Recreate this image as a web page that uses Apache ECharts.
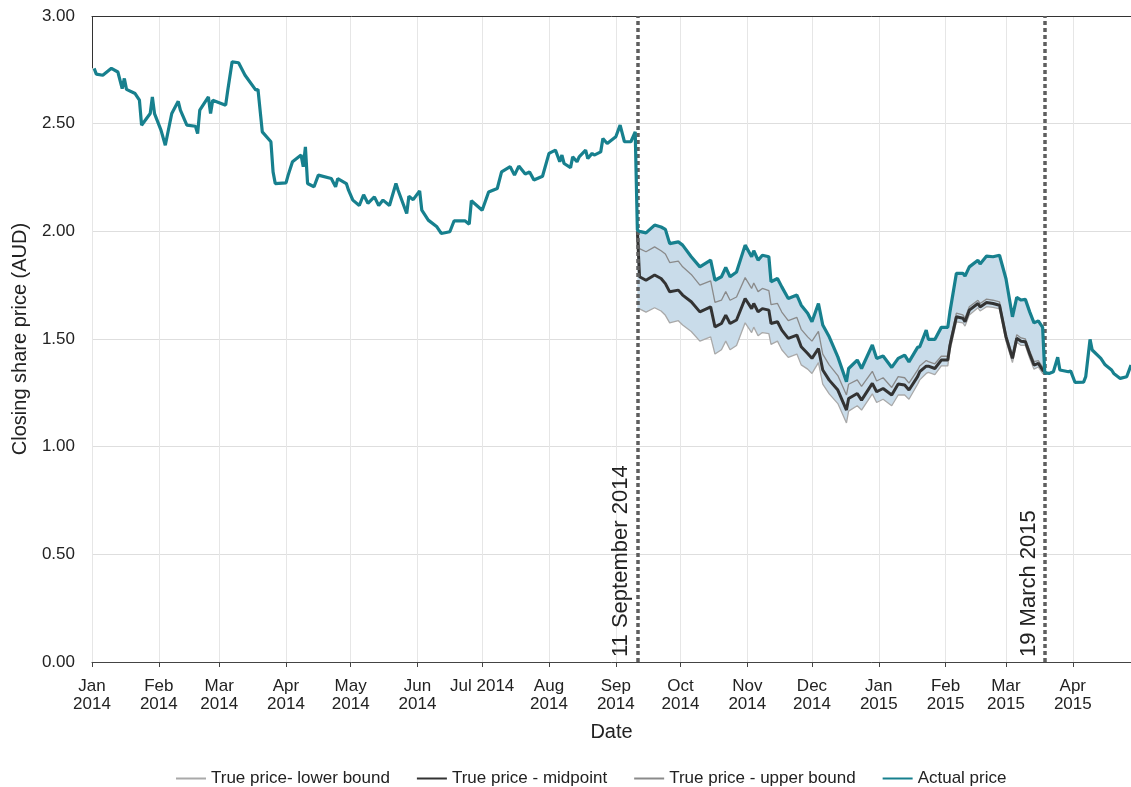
<!DOCTYPE html>
<html>
<head>
<meta charset="utf-8">
<script src="https://cdn.jsdelivr.net/npm/echarts@6/dist/echarts.min.js"></script>
<style>
  html, body { margin: 0; padding: 0; background: #ffffff; }
  #chart { width: 1131px; height: 787px; }
</style>
</head>
<body>
<div id="chart"></div>
<script>
// Month ticks on the date axis
const tickDates = ['2014-01-01','2014-02-01','2014-03-01','2014-04-01','2014-05-01','2014-06-01',
  '2014-07-01','2014-08-01','2014-09-01','2014-10-01','2014-11-01','2014-12-01',
  '2015-01-01','2015-02-01','2015-03-01','2015-04-01'];
const xStart = '2014-01-01';
const xEnd = '2015-04-28';

// Closing share price (AUD)
const actualDates = [
  '2014-01-02','2014-01-03','2014-01-06','2014-01-10','2014-01-13','2014-01-15','2014-01-16','2014-01-17',
  '2014-01-21','2014-01-23','2014-01-24','2014-01-28','2014-01-29','2014-01-30','2014-02-02','2014-02-04',
  '2014-02-07','2014-02-10','2014-02-11','2014-02-14','2014-02-18','2014-02-19','2014-02-20','2014-02-24',
  '2014-02-25','2014-02-26','2014-03-04','2014-03-05','2014-03-07','2014-03-10','2014-03-13','2014-03-18',
  '2014-03-19','2014-03-21','2014-03-25','2014-03-26','2014-03-27','2014-04-01','2014-04-02','2014-04-04',
  '2014-04-08','2014-04-09','2014-04-10','2014-04-11','2014-04-14','2014-04-16','2014-04-22','2014-04-24',
  '2014-04-25','2014-04-29','2014-04-30','2014-05-02','2014-05-05','2014-05-07','2014-05-09','2014-05-12',
  '2014-05-14','2014-05-16','2014-05-19','2014-05-22','2014-05-23','2014-05-27','2014-05-28','2014-05-30',
  '2014-06-02','2014-06-03','2014-06-06','2014-06-10','2014-06-12','2014-06-16','2014-06-18','2014-06-23',
  '2014-06-25','2014-06-26','2014-07-01','2014-07-04','2014-07-08','2014-07-10','2014-07-14','2014-07-16',
  '2014-07-18','2014-07-21','2014-07-23','2014-07-25','2014-07-29','2014-08-01','2014-08-04','2014-08-06',
  '2014-08-07','2014-08-08','2014-08-11','2014-08-12','2014-08-14','2014-08-15','2014-08-18','2014-08-19',
  '2014-08-21','2014-08-22','2014-08-25','2014-08-26','2014-08-28','2014-09-01','2014-09-03','2014-09-05',
  '2014-09-08','2014-09-10',
  '2014-09-11','2014-09-12','2014-09-15','2014-09-19','2014-09-22','2014-09-24','2014-09-26','2014-09-30',
  '2014-10-02','2014-10-06','2014-10-10','2014-10-15','2014-10-17','2014-10-20','2014-10-22','2014-10-24',
  '2014-10-27','2014-10-31','2014-11-03','2014-11-04','2014-11-06','2014-11-08','2014-11-11','2014-11-12',
  '2014-11-15','2014-11-17','2014-11-20','2014-11-24','2014-11-26','2014-11-29','2014-12-01','2014-12-04',
  '2014-12-06','2014-12-09','2014-12-13','2014-12-17','2014-12-18','2014-12-22','2014-12-24','2014-12-29',
  '2014-12-31','2015-01-03','2015-01-07','2015-01-10','2015-01-13','2015-01-15','2015-01-19','2015-01-20',
  '2015-01-23','2015-01-24','2015-01-27','2015-01-30','2015-02-02','2015-02-03','2015-02-06','2015-02-09',
  '2015-02-10','2015-02-12','2015-02-16','2015-02-17','2015-02-20','2015-02-23','2015-02-26','2015-03-01',
  '2015-03-04','2015-03-06','2015-03-08','2015-03-10','2015-03-12','2015-03-14','2015-03-16','2015-03-18',
  '2015-03-19',
  '2015-03-21','2015-03-23','2015-03-25','2015-03-26','2015-03-30','2015-03-31','2015-04-02','2015-04-06',
  '2015-04-07','2015-04-09','2015-04-10','2015-04-14','2015-04-16','2015-04-19','2015-04-20','2015-04-23',
  '2015-04-26','2015-04-28'
];
const actualValues = [
  2.757,2.730,2.725,2.757,2.740,2.663,2.710,2.659,
  2.640,2.609,2.493,2.547,2.624,2.547,2.470,2.400,
  2.547,2.604,2.563,2.493,2.488,2.454,2.563,2.624,
  2.547,2.609,2.586,2.656,2.787,2.783,2.725,2.656,
  2.659,2.462,2.416,2.276,2.222,2.225,2.261,2.323,
  2.354,2.300,2.392,2.222,2.207,2.261,2.245,2.207,
  2.245,2.222,2.191,2.145,2.120,2.170,2.130,2.160,
  2.120,2.145,2.120,2.222,2.191,2.083,2.163,2.147,
  2.188,2.098,2.052,2.021,1.990,1.998,2.049,2.049,
  2.033,2.142,2.098,2.183,2.199,2.276,2.300,2.261,
  2.303,2.266,2.276,2.238,2.256,2.362,2.377,2.323,
  2.354,2.315,2.296,2.346,2.323,2.346,2.377,2.338,
  2.362,2.354,2.369,2.431,2.408,2.439,2.493,2.416,
  2.416,2.462,
  2.006,2.000,1.993,2.029,2.020,2.009,1.943,1.951,
  1.936,1.882,1.835,1.866,1.773,1.789,1.832,1.789,
  1.811,1.936,1.882,1.910,1.866,1.889,1.882,1.766,
  1.781,1.742,1.688,1.704,1.657,1.620,1.580,1.665,
  1.565,1.510,1.417,1.301,1.363,1.402,1.363,1.472,
  1.410,1.421,1.368,1.410,1.425,1.394,1.461,1.464,
  1.541,1.498,1.498,1.554,1.554,1.626,1.805,1.805,
  1.792,1.835,1.866,1.848,1.885,1.882,1.889,1.780,
  1.603,1.693,1.681,1.684,1.626,1.575,1.584,1.554,
  1.343,
  1.340,1.348,1.415,1.356,1.348,1.352,1.299,1.300,
  1.325,1.498,1.449,1.410,1.380,1.356,1.340,1.317,
  1.325,1.379
];

// Estimated true price range between the two announcements
const bandDates = [
  '2014-09-11','2014-09-12','2014-09-15','2014-09-19','2014-09-22','2014-09-24','2014-09-26','2014-09-30',
  '2014-10-02','2014-10-06','2014-10-10','2014-10-15','2014-10-17','2014-10-20','2014-10-22','2014-10-24',
  '2014-10-27','2014-10-31','2014-11-03','2014-11-04','2014-11-06','2014-11-08','2014-11-11','2014-11-12',
  '2014-11-15','2014-11-17','2014-11-20','2014-11-24','2014-11-26','2014-11-29','2014-12-01','2014-12-04',
  '2014-12-06','2014-12-09','2014-12-13','2014-12-17','2014-12-18','2014-12-22','2014-12-24','2014-12-29',
  '2014-12-31','2015-01-03','2015-01-07','2015-01-10','2015-01-13','2015-01-15','2015-01-19','2015-01-20',
  '2015-01-23','2015-01-24','2015-01-27','2015-01-30','2015-02-02','2015-02-03','2015-02-06','2015-02-09',
  '2015-02-10','2015-02-12','2015-02-16','2015-02-17','2015-02-20','2015-02-23','2015-02-26','2015-03-01',
  '2015-03-04','2015-03-06','2015-03-08','2015-03-10','2015-03-12','2015-03-14','2015-03-16','2015-03-18',
  '2015-03-19'
];
const midValues = [
  2.000,1.789,1.773,1.797,1.781,1.757,1.719,1.727,
  1.704,1.673,1.626,1.649,1.556,1.572,1.611,1.572,
  1.588,1.688,1.641,1.665,1.626,1.641,1.634,1.572,
  1.580,1.541,1.503,1.518,1.464,1.433,1.410,1.456,
  1.356,1.309,1.263,1.170,1.224,1.247,1.216,1.294,
  1.255,1.270,1.240,1.291,1.286,1.263,1.325,1.348,
  1.374,1.374,1.363,1.402,1.402,1.470,1.603,1.596,
  1.580,1.634,1.665,1.649,1.669,1.665,1.657,1.510,
  1.410,1.503,1.490,1.487,1.430,1.379,1.387,1.356,
  1.348
];
const upperValues = [
  2.000,1.920,1.905,1.928,1.910,1.895,1.855,1.862,
  1.835,1.800,1.750,1.770,1.670,1.680,1.720,1.680,
  1.695,1.785,1.735,1.760,1.720,1.735,1.725,1.660,
  1.665,1.625,1.585,1.600,1.545,1.510,1.490,1.535,
  1.430,1.380,1.330,1.240,1.290,1.310,1.280,1.350,
  1.305,1.320,1.275,1.325,1.320,1.295,1.355,1.375,
  1.400,1.395,1.385,1.420,1.420,1.490,1.620,1.612,
  1.596,1.650,1.680,1.665,1.685,1.680,1.672,1.525,
  1.425,1.520,1.505,1.500,1.445,1.395,1.400,1.370,
  1.360
];
const lowerValues = [
  1.640,1.640,1.625,1.645,1.630,1.610,1.575,1.585,
  1.565,1.535,1.490,1.510,1.430,1.450,1.490,1.450,
  1.470,1.575,1.530,1.555,1.515,1.530,1.525,1.475,
  1.490,1.450,1.415,1.430,1.380,1.360,1.340,1.390,
  1.290,1.245,1.200,1.110,1.165,1.190,1.170,1.245,
  1.205,1.220,1.190,1.240,1.240,1.220,1.290,1.310,
  1.340,1.345,1.335,1.375,1.375,1.445,1.580,1.575,
  1.560,1.612,1.645,1.630,1.650,1.647,1.640,1.490,
  1.390,1.485,1.470,1.470,1.410,1.360,1.370,1.340,
  1.335
];

// Announcement dates marked on the chart
const eventDates = ['2014-09-11', '2015-03-19'];
const eventLabels = ['11 September 2014', '19 March 2015'];

const MONTHS = ['Jan','Feb','Mar','Apr','May','Jun','Jul','Aug','Sep','Oct','Nov','Dec'];
const FONT = '"Liberation Sans", Arial, sans-serif';
const TEAL = '#17808e';

const ts = s => { const p = s.split('-').map(Number); return Date.UTC(p[0], p[1] - 1, p[2]); };
const pairs = (dates, vals) => dates.map((d, i) => [ts(d), vals[i]]);

const actualByDate = {};
actualDates.forEach((d, i) => { actualByDate[d] = actualValues[i]; });

const tickTs = tickDates.map(ts);
const xMin = ts(xStart), xMax = ts(xEnd);

const chart = echarts.init(document.getElementById('chart'), null, { renderer: 'canvas' });

chart.setOption({
  animation: false,
  backgroundColor: '#ffffff',
  textStyle: { fontFamily: FONT },
  grid: { left: 92, right: 0, top: 16, bottom: 125, containLabel: false, outerBoundsMode: 'none' },
  legend: {
    data: ['True price- lower bound', 'True price - midpoint', 'True price - upper bound', 'Actual price'],
    left: 170, top: 765,
    itemWidth: 30, itemHeight: 12, itemGap: 26,
    itemStyle: { opacity: 0 },
    textStyle: { fontSize: 17, color: '#222', fontFamily: FONT }
  },
  xAxis: [{
    type: 'value',
    min: xMin, max: xMax,
    name: 'Date', nameLocation: 'middle', nameGap: 60,
    nameTextStyle: { fontSize: 20, color: '#222', fontFamily: FONT },
    axisLine: { show: true, lineStyle: { color: '#444', width: 1 } },
    axisTick: { show: true, customValues: tickTs, length: 5, lineStyle: { color: '#444' } },
    axisLabel: {
      customValues: tickTs,
      fontSize: 17, color: '#222', lineHeight: 18, margin: 15, fontFamily: FONT,
      formatter: v => {
        const d = new Date(v);
        const m = MONTHS[d.getUTCMonth()], y = d.getUTCFullYear();
        return d.getUTCMonth() === 6 ? m + ' ' + y : m + '\n' + y;
      }
    },
    splitLine: { show: true, lineStyle: { color: '#e6e6e6', width: 1 } }
  }, {
    type: 'value', position: 'top',
    min: xMin, max: xMax,
    axisLine: { show: true, onZero: false, lineStyle: { color: '#333', width: 1 } },
    axisTick: { show: false }, axisLabel: { show: false }, splitLine: { show: false }
  }],
  yAxis: {
    type: 'value', min: 0, max: 3, interval: 0.5,
    name: 'Closing share price (AUD)', nameLocation: 'middle', nameGap: 62,
    nameTextStyle: { fontSize: 20, color: '#222', fontFamily: FONT },
    axisLine: { show: false }, axisTick: { show: false },
    axisLabel: { fontSize: 17, color: '#222', margin: 17, fontFamily: FONT, formatter: v => v.toFixed(2) },
    splitLine: { show: true, lineStyle: { color: '#dedede', width: 1 } }
  },
  series: [
    {
      // shaded region between the lower bound and the actual price
      name: 'range', type: 'custom', silent: true, z: 1,
      data: [[ts(bandDates[0]), lowerValues[0]]],
      encode: { x: 0, y: 1 },
      renderItem: (params, api) => {
        const top = bandDates.map(d => api.coord([ts(d), actualByDate[d]]));
        const bottom = bandDates.map((d, i) => api.coord([ts(d), lowerValues[i]])).reverse();
        return {
          type: 'polygon',
          shape: { points: top.concat(bottom) },
          style: { fill: '#c9dcea', stroke: null }
        };
      }
    },
    {
      name: 'True price- lower bound', type: 'line', symbol: 'none',
      data: pairs(bandDates, lowerValues),
      color: '#b0b0b0', lineStyle: { color: '#a9a9a9', width: 1.3 }, z: 3
    },
    {
      name: 'True price - upper bound', type: 'line', symbol: 'none',
      data: pairs(bandDates, upperValues),
      color: '#8c8c8c', lineStyle: { color: '#8a8a8a', width: 1.3 }, z: 3
    },
    {
      name: 'True price - midpoint', type: 'line', symbol: 'none',
      data: pairs(bandDates, midValues),
      color: '#333333', lineStyle: { color: '#333333', width: 3 }, z: 4
    },
    {
      name: 'Actual price', type: 'line', symbol: 'none',
      data: pairs(actualDates, actualValues),
      color: TEAL, lineStyle: { color: TEAL, width: 3.2 }, z: 5,
      markLine: {
        silent: true, symbol: ['none', 'none'], animation: false,
        data: [
          ...eventDates.map((d, i) => ({
            xAxis: ts(d),
            lineStyle: { color: '#5e5e5e', width: 3.5, type: [4, 3] },
            label: {
              show: true, formatter: eventLabels[i], position: 'insideStartTop',
              fontSize: 22, color: '#222', fontFamily: FONT, distance: 5
            }
          })),
          [
            { coord: [xMin, 3], lineStyle: { color: '#333', width: 1, type: 'solid' }, label: { show: false } },
            { coord: [xMin, actualValues[0]] }
          ]
        ]
      }
    }
  ]
});
</script>
</body>
</html>
